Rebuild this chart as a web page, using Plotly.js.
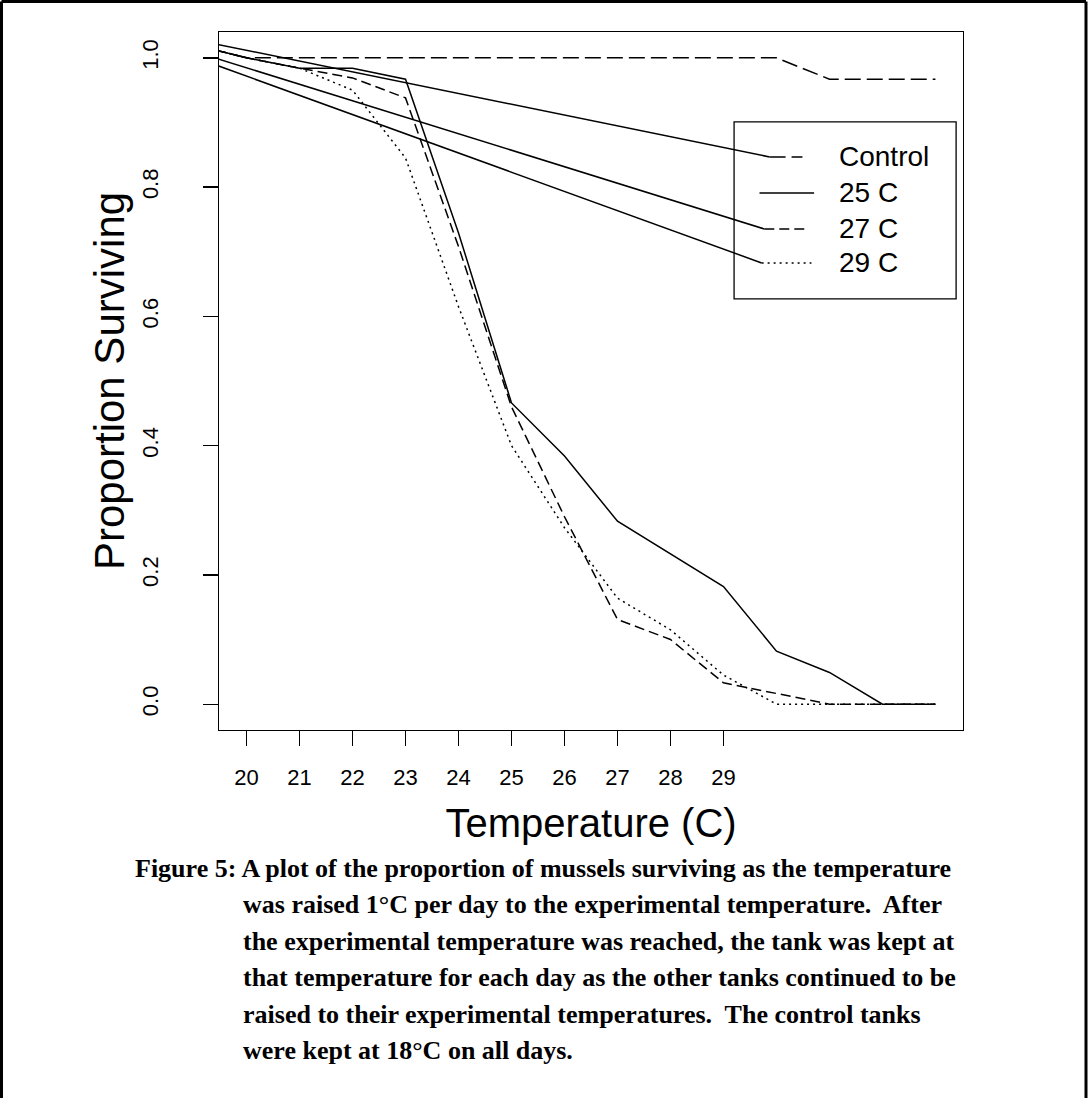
<!DOCTYPE html>
<html>
<head>
<meta charset="utf-8">
<script src="https://cdn.plot.ly/plotly-3.0.1.min.js"></script>
<style>html,body{margin:0;padding:0;background:#fff;}#chart{width:1088px;height:1098px;}</style>
</head>
<body>
<div id="chart"></div>
<script>
// ---- data ----
const temperature = [20, 21, 22, 23, 24, 25, 26, 27, 28, 29, 30, 31, 32, 33];
const controlSurv = [1, 1, 1, 1, 1, 1, 1, 1, 1, 1, 1, 0.967, 0.967, 0.967];
const surv25 = [1, 0.984, 0.984, 0.967, 0.729, 0.466, 0.384, 0.283, 0.233, 0.182, 0.082, 0.049, 0, 0];
const surv27 = [1, 0.984, 0.969, 0.938, 0.708, 0.46, 0.29, 0.131, 0.1, 0.033, 0.016, 0, 0, 0];
const surv29 = [1, 0.984, 0.95, 0.845, 0.615, 0.40, 0.273, 0.164, 0.115, 0.045, 0, 0, 0, 0];
const seriesNames = ["Control", "25 C", "27 C", "29 C"];
const xTickVals = [20, 21, 22, 23, 24, 25, 26, 27, 28, 29];
const xTickText = ["20", "21", "22", "23", "24", "25", "26", "27", "28", "29"];
const yTickVals = [0, 0.2, 0.4, 0.6, 0.8, 1.0];
const yTickText = ["0.0", "0.2", "0.4", "0.6", "0.8", "1.0"];
// off-plot point every line in the original radiates from
const originTemp = 16.93;
const originProp = 1.063;
const captionLines = [
  "Figure 5: A plot of the proportion of mussels surviving as the temperature",
  "was raised 1\u00b0C per day to the experimental temperature.\u00a0 After",
  "the experimental temperature was reached, the tank was kept at",
  "that temperature for each day as the other tanks continued to be",
  "raised to their experimental temperatures.\u00a0 The control tanks",
  "were kept at 18\u00b0C on all days."
];

// ---- styles / layout geometry ----
const dashes = ["16px,6px", "solid", "10px,5px", "2px,4px"];
const seriesVals = [controlSurv, surv25, surv27, surv29];
const LW = 1.5;
const legendBox = {x0: 29.2, x1: 33.39, y0: 0.627, y1: 0.901};
const legendRowY = [0.8467, 0.791, 0.7353, 0.6827];
const sampleX0 = [29.87, 29.68, 29.77, 29.72];
const sampleX1 = [30.49, 30.71, 30.62, 30.66];
const legendTextX = 31.15;
const hasLeader = [true, false, true, true];

const traces = [];
seriesVals.forEach((vals, i) => {
  traces.push({
    type: 'scatter', mode: 'lines',
    x: [originTemp].concat(temperature),
    y: [originProp].concat(vals),
    name: seriesNames[i],
    line: {color: '#000', width: LW, dash: dashes[i]},
    showlegend: false, hoverinfo: 'skip'
  });
});
seriesNames.forEach((nm, i) => {
  if (!hasLeader[i]) return;
  traces.push({
    type: 'scatter', mode: 'lines',
    x: [originTemp, sampleX0[i]],
    y: [originProp, legendRowY[i]],
    line: {color: '#000', width: LW},
    showlegend: false, hoverinfo: 'skip'
  });
});

const W = 1088, H = 1098;
const mL = 219, mR = 125, mT = 32, mB = 368;
const pw = W - mL - mR, ph = H - mT - mB;
const px2paperX = p => (p - mL) / pw;
const px2paperY = p => (H - mB - p) / ph;

const shapes = [
  {type: 'rect', xref: 'x', yref: 'y', x0: legendBox.x0, x1: legendBox.x1, y0: legendBox.y0, y1: legendBox.y1,
   line: {color: '#000', width: 1.3}, fillcolor: 'rgba(0,0,0,0)'},
  // outer frame
  {type: 'line', xref: 'paper', yref: 'paper', x0: px2paperX(1.5), x1: px2paperX(1086), y0: px2paperY(1.5), y1: px2paperY(1.5), line: {color: '#000', width: 3}},
  {type: 'line', xref: 'paper', yref: 'paper', x0: px2paperX(1.5), x1: px2paperX(1.5), y0: px2paperY(1.5), y1: px2paperY(1100), line: {color: '#000', width: 3}},
  {type: 'line', xref: 'paper', yref: 'paper', x0: px2paperX(1086), x1: px2paperX(1086), y0: px2paperY(1.5), y1: px2paperY(1100), line: {color: '#000', width: 3}}
];
seriesNames.forEach((nm, i) => {
  shapes.push({type: 'line', xref: 'x', yref: 'y', x0: sampleX0[i], x1: sampleX1[i], y0: legendRowY[i], y1: legendRowY[i],
    line: {color: '#000', width: LW, dash: dashes[i]}});
});

const annotations = seriesNames.map((nm, i) => ({
  xref: 'x', yref: 'y', x: legendTextX, y: legendRowY[i], text: nm, showarrow: false,
  xanchor: 'left', yanchor: 'middle', font: {family: 'Liberation Sans, Arial, sans-serif', size: 28, color: '#000'}
}));
const capX = [133, 241, 241, 241, 241, 241];
const capY0 = 868, capDY = 36.5;
captionLines.forEach((t, i) => {
  annotations.push({
    xref: 'paper', yref: 'paper', x: px2paperX(capX[i]), y: px2paperY(capY0 + i * capDY),
    text: '<b>' + t + '</b>', showarrow: false, xanchor: 'left', yanchor: 'middle',
    font: {family: 'Liberation Serif, Times New Roman, serif', size: 26, color: '#000'}
  });
});

const axisFont = {family: 'Liberation Sans, Arial, sans-serif', size: 22, color: '#000'};
const layout = {
  width: W, height: H,
  margin: {l: mL, r: mR, t: mT, b: mB, pad: 0},
  paper_bgcolor: '#fff', plot_bgcolor: '#fff',
  showlegend: false,
  xaxis: {
    range: [19.48, 33.52], autorange: false,
    tickmode: 'array', tickvals: xTickVals, ticktext: xTickText,
    ticks: 'outside', ticklen: 15, tickwidth: 1.3, tickcolor: '#000',
    ticklabelstandoff: 12,
    showline: true, linecolor: '#000', linewidth: 1.3, mirror: true,
    showgrid: false, zeroline: false,
    tickfont: axisFont,
    title: {text: 'Temperature (C)', font: {family: 'Liberation Sans, Arial, sans-serif', size: 40, color: '#000'}, standoff: 20}
  },
  yaxis: {
    range: [-0.04, 1.04], autorange: false,
    tickmode: 'array', tickvals: yTickVals, ticktext: yTickText,
    tickangle: -90,
    ticks: 'outside', ticklen: 15, tickwidth: 1.3, tickcolor: '#000',
    ticklabelstandoff: 36,
    showline: true, linecolor: '#000', linewidth: 1.3, mirror: true,
    showgrid: false, zeroline: false,
    tickfont: axisFont,
    title: {text: 'Proportion Surviving', font: {family: 'Liberation Sans, Arial, sans-serif', size: 42, color: '#000'}, standoff: 0}
  },
  shapes: shapes,
  annotations: annotations
};

Plotly.newPlot('chart', traces, layout, {displayModeBar: false, staticPlot: true});
</script>
</body>
</html>
